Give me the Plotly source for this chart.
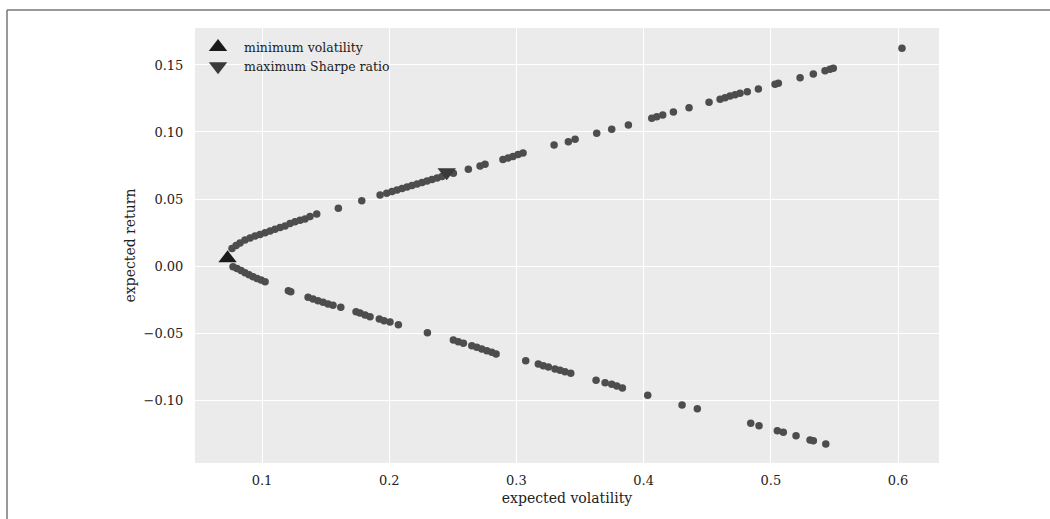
import plotly.graph_objects as go

# Efficient-frontier portfolios (expected volatility, expected return)
upper_vol = [0.0764, 0.0796, 0.0827, 0.0866, 0.0906, 0.0945, 0.0984, 0.1024, 0.1063, 0.1102,
             0.1142, 0.1181, 0.1220, 0.1259, 0.1299, 0.1338, 0.1377, 0.1430, 0.1600, 0.1784,
             0.1928, 0.1980, 0.2022, 0.2061, 0.2101, 0.2140, 0.2179, 0.2219, 0.2258, 0.2297,
             0.2336, 0.2376, 0.2415, 0.2504, 0.2622, 0.2714, 0.2753, 0.2894, 0.2934, 0.2973,
             0.3013, 0.3052, 0.3296, 0.3408, 0.3461, 0.3631, 0.3749, 0.3880, 0.4064, 0.4103,
             0.4150, 0.4234, 0.4357, 0.4514, 0.4601, 0.4640, 0.4679, 0.4719, 0.4758, 0.4815,
             0.4902, 0.5033, 0.5059, 0.5230, 0.5334, 0.5426, 0.5465, 0.5491, 0.6031]
upper_ret = [0.0131, 0.0153, 0.0172, 0.0194, 0.0209, 0.0224, 0.0235, 0.0248, 0.0261, 0.0274,
             0.0287, 0.0299, 0.0317, 0.0331, 0.0342, 0.0351, 0.0369, 0.0388, 0.0431, 0.0487,
             0.0530, 0.0543, 0.0556, 0.0567, 0.0578, 0.0590, 0.0601, 0.0612, 0.0623, 0.0634,
             0.0645, 0.0657, 0.0668, 0.0692, 0.0722, 0.0746, 0.0759, 0.0795, 0.0806, 0.0818,
             0.0832, 0.0843, 0.0903, 0.0928, 0.0946, 0.0990, 0.1020, 0.1052, 0.1102, 0.1114,
             0.1127, 0.1149, 0.1181, 0.1222, 0.1244, 0.1256, 0.1269, 0.1278, 0.1289, 0.1301,
             0.1321, 0.1356, 0.1363, 0.1405, 0.1433, 0.1457, 0.1468, 0.1475, 0.1625]

lower_vol = [0.0772, 0.0803, 0.0835, 0.0866, 0.0898, 0.0929, 0.0961, 0.0992, 0.1024, 0.1207,
             0.1226, 0.1362, 0.1401, 0.1440, 0.1480, 0.1519, 0.1558, 0.1619, 0.1739, 0.1770,
             0.1810, 0.1849, 0.1922, 0.1959, 0.2006, 0.2072, 0.2300, 0.2504, 0.2543, 0.2583,
             0.2649, 0.2688, 0.2727, 0.2767, 0.2806, 0.2840, 0.3073, 0.3172, 0.3211, 0.3251,
             0.3303, 0.3343, 0.3382, 0.3427, 0.3626, 0.3697, 0.3749, 0.3789, 0.3833, 0.4032,
             0.4302, 0.4422, 0.4842, 0.4907, 0.5051, 0.5098, 0.5198, 0.5308, 0.5334, 0.5432]
lower_ret = [-0.0005, -0.0019, -0.0034, -0.0050, -0.0065, -0.0080, -0.0093, -0.0104, -0.0117, -0.0184,
             -0.0192, -0.0234, -0.0246, -0.0259, -0.0271, -0.0284, -0.0293, -0.0308, -0.0341, -0.0351,
             -0.0366, -0.0378, -0.0396, -0.0408, -0.0418, -0.0438, -0.0498, -0.0552, -0.0565, -0.0577,
             -0.0595, -0.0607, -0.0619, -0.0632, -0.0644, -0.0657, -0.0707, -0.0731, -0.0744, -0.0754,
             -0.0769, -0.0778, -0.0789, -0.0801, -0.0853, -0.0871, -0.0883, -0.0896, -0.0910, -0.0965,
             -0.1037, -0.1065, -0.1174, -0.1192, -0.1229, -0.1241, -0.1266, -0.1298, -0.1304, -0.1328]

min_vol_point = [0.0729, 0.0057]
max_sharpe_point = [0.2452, 0.0700]

x_ticks = [0.1, 0.2, 0.3, 0.4, 0.5, 0.6]
y_ticks = [-0.10, -0.05, 0.0, 0.05, 0.10, 0.15]

FONT = "DejaVu Serif"
W, H = 1050, 519
L, R, T, B = 195, 111, 28, 56
pw, ph = W - L - R, H - T - B

fig = go.Figure()
fig.add_trace(go.Scatter(
    x=upper_vol + lower_vol, y=upper_ret + lower_ret, mode="markers",
    marker=dict(size=7.5, color="#4d4d4d", line=dict(width=0)),
    showlegend=False, hoverinfo="x+y"))
fig.add_trace(go.Scatter(
    x=[min_vol_point[0]], y=[min_vol_point[1]], mode="markers",
    name="minimum volatility",
    marker=dict(symbol="triangle-up", size=16, color="#1a1a1a", line=dict(width=0))))
fig.add_trace(go.Scatter(
    x=[max_sharpe_point[0]], y=[max_sharpe_point[1]], mode="markers",
    name="maximum Sharpe ratio",
    marker=dict(symbol="triangle-down", size=16, color="#3a3a3a", line=dict(width=0))))

# outer frame (top and left border lines of the figure image)
fx0 = (7 - L) / pw
fy0 = (H - B - 10) / ph
fig.add_shape(type="line", xref="paper", yref="paper", x0=fx0, x1=fx0,
              y0=(H - B - H) / ph, y1=fy0, line=dict(color="#777777", width=1.5))
fig.add_shape(type="line", xref="paper", yref="paper", x0=fx0, x1=(W - L) / pw,
              y0=fy0, y1=fy0, line=dict(color="#777777", width=1.5))

fig.update_layout(
    width=W, height=H,
    margin=dict(l=L, r=R, t=T, b=B, pad=0),
    paper_bgcolor="white", plot_bgcolor="#EBEBEB",
    font=dict(family=FONT, size=13, color="#222222"),
    legend=dict(x=-0.004, y=0.99, xanchor="left", yanchor="top",
                bgcolor="rgba(0,0,0,0)", font=dict(family=FONT, size=12.5, color="#222222"),
                itemsizing="trace", itemwidth=42, tracegroupgap=0),
    xaxis=dict(range=[0.0473, 0.6322], tickvals=x_ticks, tickformat=".1f",
               showgrid=True, gridcolor="white", gridwidth=1.2, zeroline=False,
               ticks="outside", ticklen=5, tickcolor="rgba(0,0,0,0)",
               title=dict(text="expected volatility", font=dict(size=14), standoff=6),
               tickfont=dict(size=13), showline=False),
    yaxis=dict(range=[-0.1470, 0.1776], tickvals=y_ticks, tickformat=".2f",
               showgrid=True, gridcolor="white", gridwidth=1.2, zeroline=False,
               ticks="outside", ticklen=8, tickcolor="rgba(0,0,0,0)",
               title=dict(text="expected return", font=dict(size=14), standoff=4),
               tickfont=dict(size=13), showline=False),
)

fig.write_html("out.html")
